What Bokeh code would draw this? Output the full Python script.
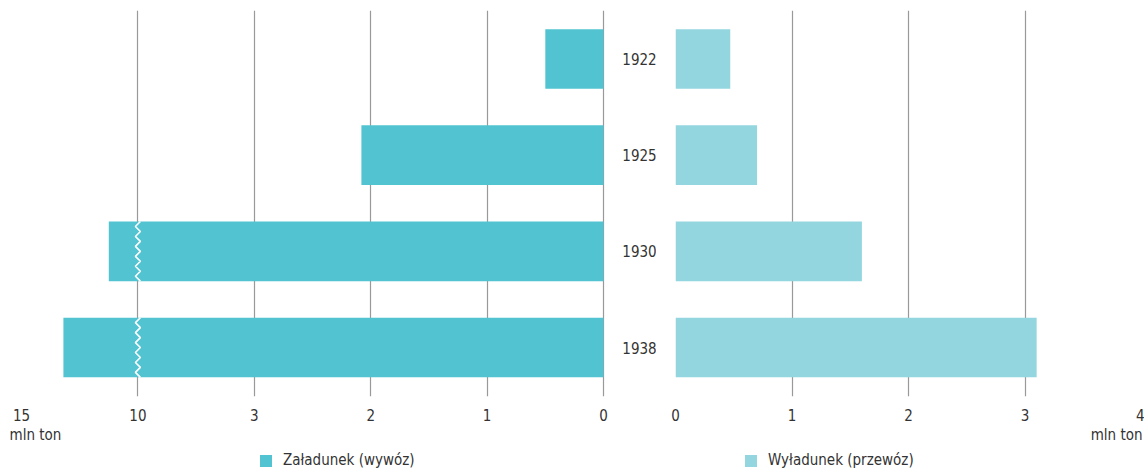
from bokeh.plotting import figure
from bokeh.layouts import row, column
from bokeh.models import Range1d, FixedTicker, Legend, LegendItem, ColumnDataSource, Title
from bokeh.core.properties import value
from bokeh.embed import file_html
from bokeh.resources import INLINE

# ---- data ----
years = ["1922", "1925", "1930", "1938"]
zaladunek = [0.5, 2.08, 11.25, 13.2]      # mln ton, loading (export)
wyladunek = [0.47, 0.70, 1.60, 3.10]      # mln ton, unloading (transport)
left_ticks = [0, 1, 2, 3, 10, 15]
right_ticks = [0, 1, 2, 3, 4]
BREAK_AT = 10
UNIT = "mln ton"
LABEL_LEFT = "Załadunek (wywóz)"
LABEL_RIGHT = "Wyładunek (przewóz)"

FONT = "DejaVu Sans Condensed, Roboto Condensed, Liberation Sans Narrow, Roboto, sans-serif"
TXT = "#333333"
C_LEFT = "#52C4D1"
C_RIGHT = "#93D6E0"
GRID = "#999999"


def brk(v):
    """broken-axis mapping: 0..3 linear, 3..10 -> 3..4, 10..15 -> 4..5"""
    if v <= 3:
        return float(v)
    if v <= 10:
        return 3 + (v - 3) / 7.0
    return 4 + (v - 10) / 5.0


pos = list(range(len(years)))
BAR_H = 0.62
y_range = Range1d(3.509, -0.504)
MAIN_H = 445


def style(p, ticks, overrides):
    p.outline_line_color = None
    p.background_fill_color = None
    p.border_fill_color = None
    ax = p.xaxis[0]
    ax.ticker = FixedTicker(ticks=ticks)
    ax.major_label_overrides = overrides
    ax.axis_line_color = None
    ax.major_tick_line_color = None
    ax.minor_tick_line_color = None
    ax.major_tick_out = 0
    ax.major_tick_in = 0
    ax.major_label_text_font = FONT
    ax.major_label_text_font_size = "15px"
    ax.major_label_text_color = TXT
    ax.major_label_standoff = 12
    p.xgrid.ticker = FixedTicker(ticks=ticks)
    p.xgrid.grid_line_color = GRID
    p.xgrid.grid_line_width = 1.2
    p.ygrid.grid_line_color = None


def unit_title(align, offset):
    return Title(text=UNIT, align=align, offset=offset, standoff=0,
                 text_font=FONT, text_font_size="15px", text_font_style="normal",
                 text_color=TXT)


# ---- left panel ----
lt = [brk(t) for t in left_ticks]
pL = figure(width=656, height=MAIN_H, output_backend="svg", toolbar_location=None,
            x_range=Range1d(5, -0.4553), y_range=y_range, y_axis_location=None,
            min_border_left=21, min_border_right=0, min_border_top=10,
            min_border_bottom=MAIN_H - 396)
style(pL, lt, {k: str(t) for k, t in zip(lt, left_ticks)})

srcL = ColumnDataSource(dict(y=pos, left=[brk(v) for v in zaladunek], right=[0] * len(pos)))
pL.hbar(y="y", left="left", right="right", height=BAR_H, source=srcL,
        fill_color=C_LEFT, line_color=None)

# zig-zag break marks inside bars exceeding the break value
xb = brk(BREAK_AT)
amp = 2.5 / 116.4
n_seg = 12
for yi, v in zip(pos, zaladunek):
    if v > BREAK_AT:
        ys = [yi - BAR_H / 2 + BAR_H * k / n_seg for k in range(n_seg + 1)]
        xs = [xb + (amp if k % 2 else -amp) for k in range(n_seg + 1)]
        pL.line(xs, ys, line_color="white", line_width=1.6)

# year labels in the gap between panels
pL.text(x=[-0.309] * len(pos), y=pos, text=years, text_align="center",
        text_baseline="middle", text_font=value(FONT), text_font_size="15px",
        text_color=TXT)

pL.add_layout(unit_title("left", -12), "below")

# ---- right panel ----
rt = [float(t) for t in right_ticks]
pR = figure(width=488, height=MAIN_H, output_backend="svg", toolbar_location=None,
            x_range=Range1d(0, 4), y_range=y_range, y_axis_location=None,
            min_border_left=19, min_border_right=3, min_border_top=10,
            min_border_bottom=MAIN_H - 396)
style(pR, rt, {k: str(t) for k, t in zip(rt, right_ticks)})

srcR = ColumnDataSource(dict(y=pos, left=[0] * len(pos), right=wyladunek))
pR.hbar(y="y", left="left", right="right", height=BAR_H, source=srcR,
        fill_color=C_RIGHT, line_color=None)

pR.add_layout(unit_title("right", -1), "below")

# ---- legend strip ----
pLeg = figure(width=1144, height=470 - MAIN_H, output_backend="svg", toolbar_location=None,
              x_range=Range1d(0, 1), y_range=Range1d(0, 1),
              x_axis_location=None, y_axis_location=None,
              min_border_left=0, min_border_right=0, min_border_top=0, min_border_bottom=0)
pLeg.outline_line_color = None
pLeg.xgrid.grid_line_color = None
pLeg.ygrid.grid_line_color = None
# swatch renderers kept outside the visible range (legend keys only)
swatch = dict(y=[-10], left=[0], right=[1])
gL = pLeg.hbar(y="y", left="left", right="right", height=1, source=ColumnDataSource(swatch),
               fill_color=C_LEFT, line_color=None)
gR = pLeg.hbar(y="y", left="left", right="right", height=1, source=ColumnDataSource(swatch),
               fill_color=C_RIGHT, line_color=None)


def legend(label, rend, x):
    return Legend(items=[LegendItem(label=label, renderers=[rend])],
                  location=(x, 1), padding=0, margin=0, border_line_color=None,
                  background_fill_alpha=0, glyph_width=15, glyph_height=15,
                  label_standoff=10, label_text_font=FONT, label_text_font_size="15px",
                  label_text_color=TXT)


pLeg.add_layout(legend(LABEL_LEFT, gL, 258))
pLeg.add_layout(legend(LABEL_RIGHT, gR, 743))

layout = column(row(pL, pR), pLeg)
open("out.html", "w").write(file_html(layout, INLINE))
